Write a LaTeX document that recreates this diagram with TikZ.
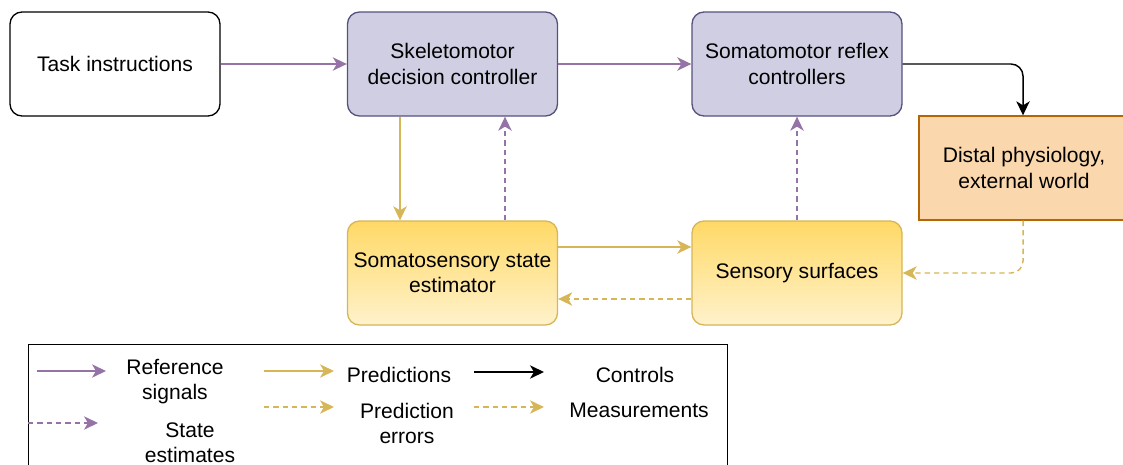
\documentclass[tikz,border=0pt]{standalone}
\usepackage{fontspec}
\setmainfont{Liberation Sans}
\usetikzlibrary{arrows.meta}
\definecolor{purp}{HTML}{9673A6}
\definecolor{pfill}{HTML}{D0CEE2}
\definecolor{pdraw}{HTML}{56517E}
\definecolor{yel}{HTML}{D6B656}
\definecolor{ytop}{HTML}{FFD966}
\definecolor{ybot}{HTML}{FFF2CC}
\definecolor{ofill}{HTML}{FAD7AC}
\definecolor{odraw}{HTML}{B46504}
\tikzset{
  x=0.75pt, y=-0.75pt,
  txt/.style={font=\fontsize{15.8}{18.8}\selectfont, align=center, inner sep=0pt},
  box/.style={txt, rounded corners=9pt, minimum width=157.5pt, minimum height=78pt, line width=1pt},
  whitebox/.style={box, draw=black, fill=white},
  purpbox/.style={box, draw=pdraw, fill=pfill},
  yelbox/.style={box, draw=yel, top color=ytop, bottom color=ybot},
  orbox/.style={txt, minimum width=157.5pt, minimum height=78pt, line width=1pt, draw=odraw, fill=ofill},
  tip/.style={-{Stealth[length=10.5pt,width=10pt,inset=3pt]}},
  refsig/.style={tip, draw=purp, line width=1.1pt},
  stest/.style={tip, draw=purp, line width=1.1pt, dash pattern=on 4pt off 3pt},
  pred/.style={tip, draw=yel, line width=1.1pt},
  prederr/.style={tip, draw=yel, line width=1.1pt, dash pattern=on 4pt off 3pt},
  ctrl/.style={tip, draw=black, line width=1.1pt},
}
\begin{document}
\begin{tikzpicture}
\useasboundingbox (0,0) rectangle (1123,464);
\begin{scope}
\clip (0,0) rectangle (1123,464);
% main boxes
\node[whitebox] (task) at (115,64) {Task instructions};
\node[purpbox] (skel) at (452.5,64) {Skeletomotor\\decision controller};
\node[purpbox] (reflex) at (797,64) {Somatomotor reflex\\controllers};
\node[orbox] (distal) at (1024,168) {Distal physiology,\\external world};
\node[yelbox] (est) at (452.5,273) {Somatosensory state\\estimator};
\node[yelbox] (sens) at (797,273) {Sensory surfaces};
% connectors
\draw[refsig] (task) -- (skel);
\draw[refsig] (skel) -- (reflex);
\draw[ctrl, rounded corners=9pt] (reflex.east) -- (1023,64) -- (distal.north -| 1023,0);
\draw[pred] (skel.south -| 400,0) -- (est.north -| 400,0);
\draw[stest] (est.north -| 505,0) -- (skel.south -| 505,0);
\draw[stest] (sens.north) -- (reflex.south);
\draw[pred] (est.east |- 0,247) -- (sens.west |- 0,247);
\draw[prederr] (sens.west |- 0,299) -- (est.east |- 0,299);
\draw[prederr, rounded corners=9pt] (distal.south -| 1023,0) -- (1023,273) -- (sens.east);
% legend
\node[draw=black, line width=1pt, minimum width=524.25pt, minimum height=97.5pt, anchor=north west, inner sep=0pt] (legend) at (28,344) {};
\coordinate (r1) at (37,371); \coordinate (r2) at (106,371);
\draw[refsig] (r1) -- (r2);
\node[txt] (lref) at (175,381.5) {Reference\\signals};
\coordinate (s1) at (28,423); \coordinate (s2) at (98,423);
\draw[stest] (s1) -- (s2);
\node[txt] (lst) at (190,443) {State\\estimates};
\coordinate (p1) at (264,371); \coordinate (p2) at (334,371);
\draw[pred] (p1) -- (p2);
\node[txt] (lpred) at (399,374.5) {Predictions};
\coordinate (e1) at (264,407); \coordinate (e2) at (334,407);
\draw[prederr] (e1) -- (e2);
\node[txt] (lerr) at (407,423.5) {Prediction\\errors};
\coordinate (c1) at (474,372); \coordinate (c2) at (544,372);
\draw[ctrl] (c1) -- (c2);
\node[txt] (lctrl) at (635,374.5) {Controls};
\coordinate (m1) at (474,407); \coordinate (m2) at (544,407);
\draw[prederr] (m1) -- (m2);
\node[txt] (lmeas) at (639,410.5) {Measurements};
\end{scope}
\end{tikzpicture}
\end{document}
